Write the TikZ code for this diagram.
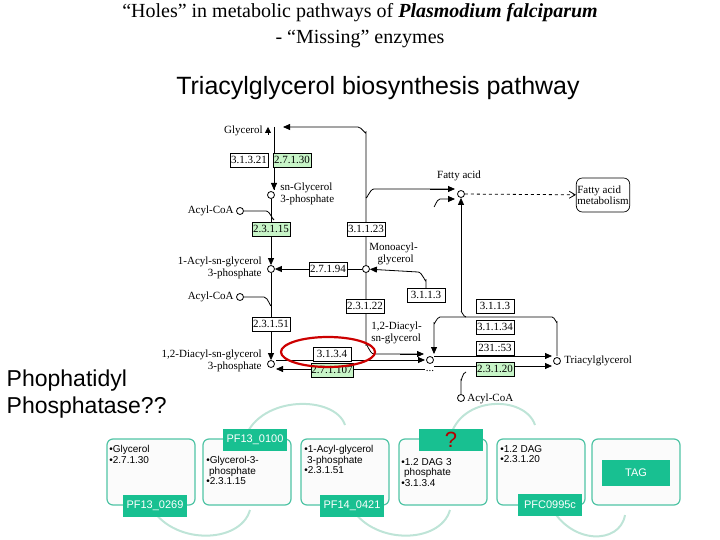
\documentclass[tikz,border=0pt]{standalone}
\usepackage{fontspec}
\setmainfont{Liberation Serif}
\newfontfamily\sansf{Liberation Sans}
\usetikzlibrary{arrows.meta,shapes.geometric}
\definecolor{teal1}{RGB}{24,192,145}
\definecolor{teal2}{RGB}{80,196,165}
\definecolor{arcc}{RGB}{190,228,215}
\definecolor{kgreen}{RGB}{200,245,200}
\begin{document}
\begin{tikzpicture}[x=1pt,y=-1pt,line width=0.8pt,
 ec/.style={draw,line width=0.7pt,fill=white,font=\fontsize{11}{12}\selectfont,inner sep=0.5pt,minimum width=38pt,minimum height=14pt},
 eg/.style={ec,fill=kgreen},
 cp/.style={circle,draw,inner sep=0pt,minimum size=7pt,fill=white},
 lb/.style={font=\fontsize{11}{11.5}\selectfont,inner sep=1pt,align=left},
 ar/.style={-{Triangle[length=7pt,width=6pt]}},
 pb/.style={draw=teal2,line width=1.2pt,rounded corners=6pt,fill=gray!3,minimum width=88pt,minimum height=66pt},
 pl/.style={fill=teal1,text=white,font=\sansf\fontsize{11}{12}\selectfont,minimum width=64pt,minimum height=22pt,inner sep=0pt},
 bt/.style={font=\sansf\fontsize{10}{10.5}\selectfont,align=left,anchor=north west,inner sep=0pt},
 arc/.style={draw=arcc,line width=2pt}]
\useasboundingbox (0,0) rectangle (720,540);
% titles
\node[font=\fontsize{20}{22}\selectfont] (t1) at (360,13) {“Holes” in metabolic pathways of \textbf{\textit{Plasmodium falciparum}}};
\node[font=\fontsize{20}{22}\selectfont] (t2) at (360,39) {- “Missing” enzymes};
\node[font=\sansf\fontsize{25}{28}\selectfont] (t3) at (378,88) {Triacylglycerol biosynthesis pathway};
\node[font=\sansf\fontsize{23}{27}\selectfont,align=left,anchor=west] (ph) at (3,394) {Phophatidyl\\Phosphatase??};
% pathway circles
\node[cp] (g3p) at (271,195) {};
\node[cp] (a1) at (271,269) {};
\node[cp] (dag3) at (271,364) {};
\node[cp] (mag) at (366,269) {};
\node[cp] (dag) at (430,360) {};
\node[cp] (fa) at (461,194) {};
\node[cp] (tag) at (557,361) {};
\node[cp] (ac1) at (240,211) {};
\node[cp] (ac2) at (240,297) {};
\node[cp] (ac3) at (461,398) {};
\coordinate (gly) at (274,127);
% labels
\node[lb,anchor=east] (lgly) at (264,131) {Glycerol};
\node[lb,anchor=west] (lg3p) at (279,194) {sn-Glycerol\\3-phosphate};
\node[lb,anchor=east] (lac1) at (235,211) {Acyl-CoA};
\node[lb,anchor=east,align=right] (la1) at (263,268) {1-Acyl-sn-glycerol\\3-phosphate};
\node[lb,anchor=east] (lac2) at (235,297) {Acyl-CoA};
\node[lb,anchor=east,align=right] (ldag3) at (263,361) {1,2-Diacyl-sn-glycerol\\3-phosphate};
\node[lb,anchor=west] (lmag) at (368,254) {Monoacyl-\\\ \ \ glycerol};
\node[lb,anchor=west] (ldag) at (370,333) {1,2-Diacyl-\\sn-glycerol};
\node[lb] (lfa) at (459,176) {Fatty acid};
\node[lb,anchor=west] (ltag) at (563,361) {Triacylglycerol};
\node[lb,anchor=west] (lac3) at (466,399) {Acyl-CoA};
\node[draw,rounded corners=6pt,lb,minimum height=34pt,line width=0.7pt] (fam) at (603,195) {Fatty acid\\metabolism};
\node[lb] (dots) at (430,371) {...};
% connectors
\draw[ar] (366,265) -- (366,132) to[out=-90,in=0] (358,127) -- (283,127);
\draw (gly) -- (274,190);
\draw[-{Triangle[length=6pt,width=6pt]}] (268,135) -- (268,127);
\draw[ar] (274,175) -- (274,190);
\draw (ac1) -- (266,211) to[out=0,in=-90] (274,219);
\draw (g3p) -- (271,255);
\draw[ar] (271,240) -- (a1);
\draw[ar] (mag) -- (a1);
\draw[ar] (426,290) -- (426,280) to[out=-90,in=0] (418,272) -- (mag);
\draw (ac2) -- (264,297) to[out=0,in=-90] (271,305);
\draw[ar] (a1) -- (dag3);
\draw (mag) -- (366,345) to[out=90,in=180] (374,354) -- (420,354);
\draw[ar] (400,354) -- (424,354);
\draw[ar] (276,360) -- (425,360);
\draw[ar] (425,369) -- (276,369);
\draw (366,197) to[out=-90,in=180] (374,189) -- (448,189);
\draw[ar] (430,189) -- (455,189);
\draw[ar] (434,206) to[out=-90,in=180] (440,199) -- (455,199);
\draw[ar] (461,312) -- (fa);
\draw[dashed,-{Straight Barb[length=6pt,width=7pt]}] (fa) -- (fam);
\draw[ar] (557,356) -- (557,322) to[out=-90,in=0] (552,317) -- (440,317) to[out=180,in=-90] (434,323) -- (434,354);
\draw (461,312) to[out=90,in=180] (466,317);
\draw[ar] (434,356) -- (552,356);
\draw[ar] (434,366) -- (552,366);
\draw (ac3) -- (461,380) to[out=-90,in=180] (466,372);
% enzyme boxes
\node[ec] (e1) at (249,160) {3.1.3.21};
\node[eg] (e2) at (292,160) {2.7.1.30};
\node[eg] (e3) at (271,229) {2.3.1.15};
\node[ec] (e4) at (366,229) {3.1.1.23};
\node[ec] (e5) at (328,269) {2.7.1.94};
\node[ec] (e6) at (365,306) {2.3.1.22};
\node[ec] (e7) at (426,295) {3.1.1.3};
\node[ec] (e8) at (271,324) {2.3.1.51};
\node[ec] (e9) at (332,354) {3.1.3.4};
\node[eg] (e10) at (332,370) {2.7.1.107};
\node[ec] (e11) at (495,306) {3.1.1.3};
\node[ec] (e12) at (495,327) {3.1.1.34};
\node[ec] (e13) at (495,348) {231.:53};
\node[eg] (e14) at (495,369) {2.3.1.20};
\node[ellipse,draw=red!80!black,line width=2.2pt,minimum width=94pt,minimum height=30pt] (red) at (328,352) {};
% bottom process
\draw[arc] (150,505) .. controls (170,545) and (240,545) .. (250,510);
\draw[arc] (245,438) .. controls (260,395) and (335,395) .. (345,425);
\draw[arc] (350,505) .. controls (370,545) and (440,545) .. (450,510);
\draw[arc] (450,438) .. controls (460,395) and (525,395) .. (535,425);
\draw[arc] (550,505) .. controls (570,545) and (620,545) .. (625,515);
\node[pb] (b1) at (151,472) {};
\node[pb] (b2) at (247,472) {};
\node[pb] (b3) at (345,472) {};
\node[pb] (b4) at (443,472) {};
\node[pb] (b5) at (541,472) {};
\node[pb] (b6) at (636,472) {};
\node[bt] (x1) at (109,445) {•Glycerol\\•2.7.1.30};
\node[bt] (x2) at (206,456) {•Glycerol-3-\\\ phosphate\\•2.3.1.15};
\node[bt] (x3) at (304,445) {•1-Acyl-glycerol\\\ 3-phosphate\\•2.3.1.51};
\node[bt] (x4) at (401,458) {•1.2 DAG 3\\\ phosphate\\•3.1.3.4};
\node[bt] (x5) at (500,445) {•1.2 DAG\\•2.3.1.20};
\node[pl] (p1) at (155,506) {PF13\_0269};
\node[pl] (p2) at (255,440) {PF13\_0100};
\node[pl] (p3) at (352,506) {PF14\_0421};
\node[pl,text=red!70!black,font=\sansf\fontsize{22}{22}\selectfont] (p4) at (451,440) {?};
\node[pl] (p5) at (550,505) {PFC0995c};
\node[pl,minimum width=68pt,minimum height=26pt] (p6) at (636,473) {TAG};
\end{tikzpicture}
\end{document}
